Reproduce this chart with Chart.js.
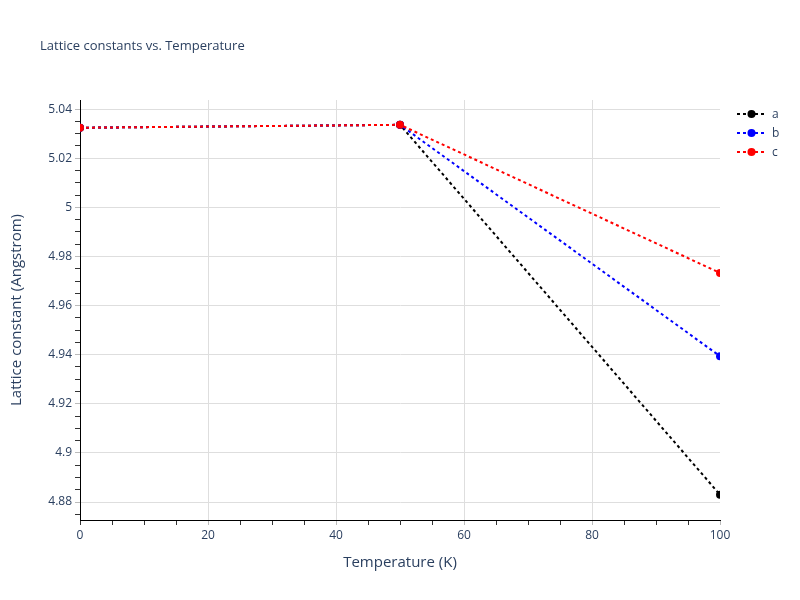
<!DOCTYPE html>
<html>
<head>
<meta charset="utf-8">
<script src="https://cdn.jsdelivr.net/npm/chart.js@4"></script>
<style>
  html, body { margin: 0; padding: 0; background: #fff; }
  #wrap { width: 800px; height: 600px; }
</style>
</head>
<body>
<div id="wrap"><canvas id="latticeChart" width="800" height="600"></canvas></div>
<script>
// data
const temperatures = [0, 50, 100];
const latticeA = [5.0324, 5.0336, 4.8830];
const latticeB = [5.0324, 5.0336, 4.9394];
const latticeC = [5.0324, 5.0336, 4.9733];
const seriesNames = ["a", "b", "c"];
const seriesColors = ["#000000", "#0000ff", "#ff0000"];

const textColor = "#2a3f5f";
const gridColor = "#dedede";
const fontFamily = "'Open Sans', Arial, sans-serif";

function toPoints(values) {
  return temperatures.map((t, i) => ({ x: t, y: values[i] }));
}

function makeSet(idx, values) {
  return {
    label: seriesNames[idx],
    data: toPoints(values),
    borderColor: seriesColors[idx],
    backgroundColor: seriesColors[idx],
    borderWidth: 2,
    borderDash: [3, 3],
    pointRadius: 4,
    pointBorderWidth: 0,
    pointBackgroundColor: seriesColors[idx],
    tension: 0,
    order: 3 - idx
  };
}

const isMajorY = v => Math.abs(v * 50 - Math.round(v * 50)) < 1e-6;

// title + legend drawn by hand, plotly style
const overlay = {
  id: "overlay",
  afterDraw(chart) {
    const ctx = chart.ctx;
    ctx.save();
    ctx.fillStyle = textColor;
    ctx.font = "13px " + fontFamily;
    ctx.textBaseline = "middle";
    ctx.textAlign = "left";
    ctx.fillText("Lattice constants vs. Temperature", 40, 46);

    chart.data.datasets.forEach((ds, i) => {
      const y = 114 + i * 19;
      ctx.strokeStyle = ds.borderColor;
      ctx.lineWidth = 2;
      ctx.setLineDash([3, 3]);
      ctx.beginPath();
      ctx.moveTo(737, y);
      ctx.lineTo(766, y);
      ctx.stroke();
      ctx.setLineDash([]);
      ctx.fillStyle = ds.borderColor;
      ctx.beginPath();
      ctx.arc(751.5, y, 4, 0, Math.PI * 2);
      ctx.fill();
      ctx.fillStyle = textColor;
      ctx.font = "12px " + fontFamily;
      ctx.fillText(ds.label, 772, y + 1);
    });
    ctx.restore();
  }
};

const ctx = document.getElementById("latticeChart").getContext("2d");
new Chart(ctx, {
  type: "line",
  data: {
    datasets: [makeSet(0, latticeA), makeSet(1, latticeB), makeSet(2, latticeC)]
  },
  options: {
    responsive: false,
    animation: false,
    layout: { padding: { top: 100, right: 80, left: 0, bottom: 0 } },
    plugins: {
      legend: { display: false },
      title: { display: false },
      tooltip: { enabled: false }
    },
    scales: {
      x: {
        type: "linear",
        min: 0,
        max: 100,
        afterFit: s => { s.height = 80; },
        border: { color: "#000", width: 1 },
        grid: {
          color: c => (c.tick && c.tick.value % 20 === 0 && c.tick.value > 0 && c.tick.value < 100) ? gridColor : "transparent",
          tickColor: c => (c.tick && c.tick.value % 20 === 0 && c.tick.value > 0) ? "#bbb" : "#333",
          tickLength: 5,
          lineWidth: 1
        },
        ticks: {
          stepSize: 5,
          autoSkip: false,
          maxRotation: 0,
          color: textColor,
          font: { family: fontFamily, size: 12 },
          padding: 3,
          callback: v => (v % 20 === 0 ? String(v) : "")
        },
        title: {
          display: true,
          text: "Temperature (K)",
          color: textColor,
          font: { family: fontFamily, size: 15 },
          padding: { top: 0, bottom: 28 }
        }
      },
      y: {
        type: "linear",
        min: 4.8727,
        max: 5.0437,
        afterFit: s => { s.width = 80; },
        border: { color: "#000", width: 1 },
        grid: {
          color: c => (c.tick && isMajorY(c.tick.value)) ? gridColor : "transparent",
          tickColor: c => (c.tick && isMajorY(c.tick.value)) ? "#bbb" : "#333",
          tickLength: 5,
          lineWidth: 1
        },
        ticks: {
          stepSize: 0.005,
          includeBounds: false,
          autoSkip: false,
          maxTicksLimit: 200,
          color: textColor,
          font: { family: fontFamily, size: 12 },
          padding: 3,
          callback: v => (isMajorY(v) ? String(Number(v.toFixed(2))) : "")
        },
        title: {
          display: true,
          text: "Lattice constant (Angstrom)",
          color: textColor,
          font: { family: fontFamily, size: 15 },
          padding: { top: 7.5, bottom: 0 }
        }
      }
    }
  },
  plugins: [overlay]
});
</script>
</body>
</html>
